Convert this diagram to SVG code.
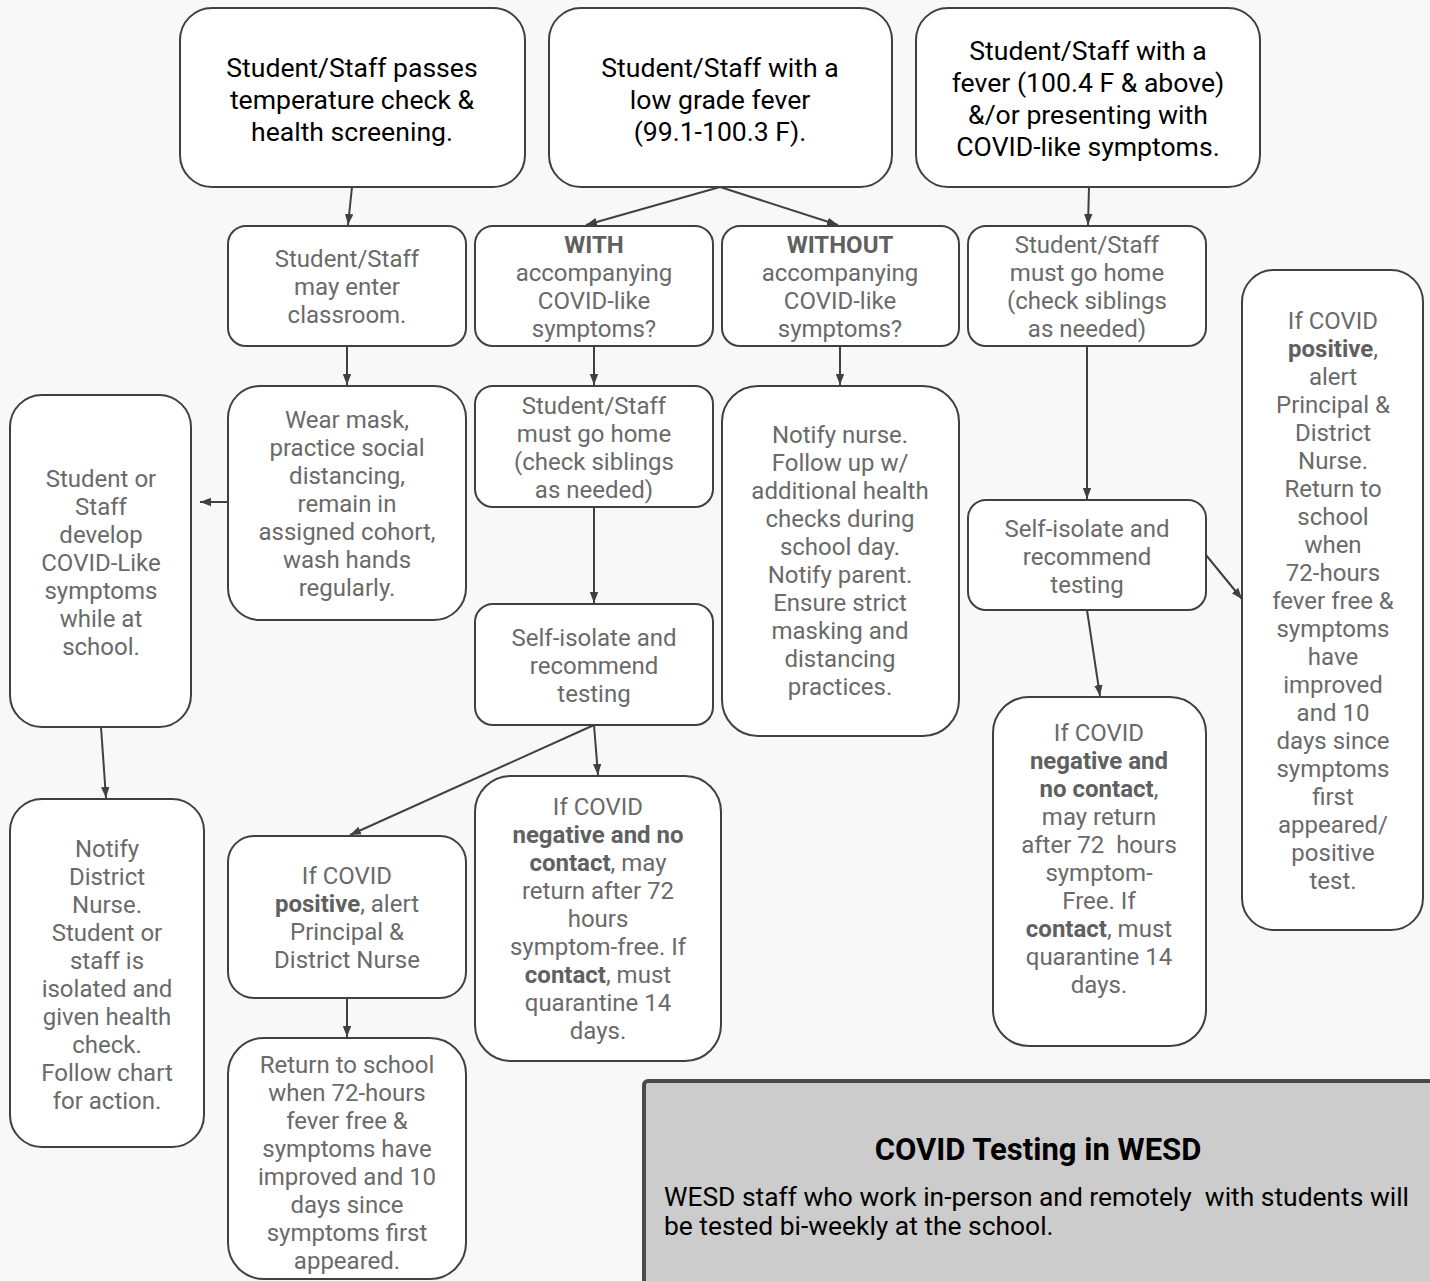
<svg xmlns="http://www.w3.org/2000/svg" width="1430" height="1281" viewBox="0 0 1430 1281">
<defs>
<style>
.bg{fill:#f8f8f8}
.box{fill:#ffffff;stroke:#404040;stroke-width:2}
.note{fill:#cccccc;stroke:#4a4a4a;stroke-width:4}
.t{font-family:Roboto,"Liberation Sans",sans-serif;text-anchor:middle}
.top{font-size:26.6px;fill:#000000}
.g{font-size:24px;fill:#6a6a6a}
.b{font-weight:bold;fill:#606060}
.conn line{stroke:#404040;stroke-width:2;fill:none}
.pre{white-space:pre}
</style>
<marker id="ah" viewBox="0 0 10 10" refX="10" refY="5" markerWidth="11" markerHeight="11" markerUnits="userSpaceOnUse" orient="auto">
<path d="M0,1.2 L10,5 L0,8.8 z" fill="#404040"/>
</marker>
</defs>
<rect class="bg" x="0" y="0" width="1430" height="1281"/>

<g id="connectors" class="conn">
<line x1="352" y1="187" x2="348" y2="225" marker-end="url(#ah)"/>
<line x1="720" y1="187" x2="586" y2="225" marker-end="url(#ah)"/>
<line x1="720" y1="187" x2="838" y2="225" marker-end="url(#ah)"/>
<line x1="1089" y1="187" x2="1088" y2="225" marker-end="url(#ah)"/>
<line x1="347" y1="346" x2="347" y2="385" marker-end="url(#ah)"/>
<line x1="594" y1="346" x2="594" y2="385" marker-end="url(#ah)"/>
<line x1="840" y1="346" x2="840" y2="385" marker-end="url(#ah)"/>
<line x1="1087" y1="346" x2="1087" y2="499" marker-end="url(#ah)"/>
<line x1="228" y1="502" x2="200" y2="502" marker-end="url(#ah)"/>
<line x1="101" y1="727" x2="106" y2="798" marker-end="url(#ah)"/>
<line x1="594" y1="507" x2="594" y2="603" marker-end="url(#ah)"/>
<line x1="594" y1="725" x2="350" y2="835" marker-end="url(#ah)"/>
<line x1="594" y1="725" x2="598" y2="775" marker-end="url(#ah)"/>
<line x1="1087" y1="610" x2="1100" y2="696" marker-end="url(#ah)"/>
<line x1="1206" y1="555" x2="1242" y2="599" marker-end="url(#ah)"/>
<line x1="347" y1="998" x2="347" y2="1037" marker-end="url(#ah)"/>
</g>

<g id="n-passes">
<rect class="box" x="180" y="8" width="345" height="179" rx="32"/>
<text class="t top"><tspan x="352" y="77">Student/Staff passes</tspan><tspan x="352" y="109">temperature check &amp;</tspan><tspan x="352" y="141">health screening.</tspan></text>
</g>
<g id="n-lowgrade">
<rect class="box" x="549" y="8" width="343" height="179" rx="32"/>
<text class="t top"><tspan x="720" y="77">Student/Staff with a</tspan><tspan x="720" y="109">low grade fever</tspan><tspan x="720" y="141">(99.1-100.3 F).</tspan></text>
</g>
<g id="n-fever">
<rect class="box" x="916" y="8" width="344" height="179" rx="32"/>
<text class="t top"><tspan x="1088" y="60">Student/Staff with a</tspan><tspan x="1088" y="92">fever (100.4 F &amp; above)</tspan><tspan x="1088" y="124">&amp;/or presenting with</tspan><tspan x="1088" y="156">COVID-like symptoms.</tspan></text>
</g>

<g id="n-enter">
<rect class="box" x="228" y="226" width="238" height="120" rx="18"/>
<text class="t g"><tspan x="347" y="267">Student/Staff</tspan><tspan x="347" y="295">may enter</tspan><tspan x="347" y="323">classroom.</tspan></text>
</g>
<g id="n-with">
<rect class="box" x="475" y="226" width="238" height="120" rx="18"/>
<text class="t g"><tspan x="594" y="253" class="b">WITH</tspan><tspan x="594" y="281">accompanying</tspan><tspan x="594" y="309">COVID-like</tspan><tspan x="594" y="337">symptoms?</tspan></text>
</g>
<g id="n-without">
<rect class="box" x="722" y="226" width="237" height="120" rx="18"/>
<text class="t g"><tspan x="840" y="253" class="b">WITHOUT</tspan><tspan x="840" y="281">accompanying</tspan><tspan x="840" y="309">COVID-like</tspan><tspan x="840" y="337">symptoms?</tspan></text>
</g>
<g id="n-gohome-right">
<rect class="box" x="968" y="226" width="238" height="120" rx="18"/>
<text class="t g"><tspan x="1087" y="253">Student/Staff</tspan><tspan x="1087" y="281">must go home</tspan><tspan x="1087" y="309">(check siblings</tspan><tspan x="1087" y="337">as needed)</tspan></text>
</g>

<g id="n-mask">
<rect class="box" x="228" y="386" width="238" height="234" rx="32"/>
<text class="t g"><tspan x="347" y="428">Wear mask,</tspan><tspan x="347" y="456">practice social</tspan><tspan x="347" y="484">distancing,</tspan><tspan x="347" y="512">remain in</tspan><tspan x="347" y="540">assigned cohort,</tspan><tspan x="347" y="568">wash hands</tspan><tspan x="347" y="596">regularly.</tspan></text>
</g>
<g id="n-gohome-mid">
<rect class="box" x="475" y="386" width="238" height="121" rx="18"/>
<text class="t g"><tspan x="594" y="414">Student/Staff</tspan><tspan x="594" y="442">must go home</tspan><tspan x="594" y="470">(check siblings</tspan><tspan x="594" y="498">as needed)</tspan></text>
</g>
<g id="n-notifynurse">
<rect class="box" x="722" y="386" width="237" height="350" rx="36"/>
<text class="t g"><tspan x="840" y="443">Notify nurse.</tspan><tspan x="840" y="471">Follow up w/</tspan><tspan x="840" y="499">additional health</tspan><tspan x="840" y="527">checks during</tspan><tspan x="840" y="555">school day.</tspan><tspan x="840" y="583">Notify parent.</tspan><tspan x="840" y="611">Ensure strict</tspan><tspan x="840" y="639">masking and</tspan><tspan x="840" y="667">distancing</tspan><tspan x="840" y="695">practices.</tspan></text>
</g>
<g id="n-develop">
<rect class="box" x="10" y="395" width="181" height="332" rx="32"/>
<text class="t g"><tspan x="101" y="487">Student or</tspan><tspan x="101" y="515">Staff</tspan><tspan x="101" y="543">develop</tspan><tspan x="101" y="571">COVID-Like</tspan><tspan x="101" y="599">symptoms</tspan><tspan x="101" y="627">while at</tspan><tspan x="101" y="655">school.</tspan></text>
</g>
<g id="n-positive-right">
<rect class="box" x="1242" y="270" width="181" height="660" rx="32"/>
<text class="t g"><tspan x="1333" y="329">If COVID</tspan><tspan x="1333" y="357"><tspan class="b">positive</tspan>,</tspan><tspan x="1333" y="385">alert</tspan><tspan x="1333" y="413">Principal &amp;</tspan><tspan x="1333" y="441">District</tspan><tspan x="1333" y="469">Nurse.</tspan><tspan x="1333" y="497">Return to</tspan><tspan x="1333" y="525">school</tspan><tspan x="1333" y="553">when</tspan><tspan x="1333" y="581">72-hours</tspan><tspan x="1333" y="609">fever free &amp;</tspan><tspan x="1333" y="637">symptoms</tspan><tspan x="1333" y="665">have</tspan><tspan x="1333" y="693">improved</tspan><tspan x="1333" y="721">and 10</tspan><tspan x="1333" y="749">days since</tspan><tspan x="1333" y="777">symptoms</tspan><tspan x="1333" y="805">first</tspan><tspan x="1333" y="833">appeared/</tspan><tspan x="1333" y="861">positive</tspan><tspan x="1333" y="889">test.</tspan></text>
</g>
<g id="n-isolate-right">
<rect class="box" x="968" y="500" width="238" height="110" rx="18"/>
<text class="t g"><tspan x="1087" y="537">Self-isolate and</tspan><tspan x="1087" y="565">recommend</tspan><tspan x="1087" y="593">testing</tspan></text>
</g>
<g id="n-isolate-mid">
<rect class="box" x="475" y="604" width="238" height="121" rx="18"/>
<text class="t g"><tspan x="594" y="646">Self-isolate and</tspan><tspan x="594" y="674">recommend</tspan><tspan x="594" y="702">testing</tspan></text>
</g>

<g id="n-notify-district">
<rect class="box" x="10" y="799" width="194" height="348" rx="32"/>
<text class="t g"><tspan x="107" y="857">Notify</tspan><tspan x="107" y="885">District</tspan><tspan x="107" y="913">Nurse.</tspan><tspan x="107" y="941">Student or</tspan><tspan x="107" y="969">staff is</tspan><tspan x="107" y="997">isolated and</tspan><tspan x="107" y="1025">given health</tspan><tspan x="107" y="1053">check.</tspan><tspan x="107" y="1081">Follow chart</tspan><tspan x="107" y="1109">for action.</tspan></text>
</g>
<g id="n-positive-mid">
<rect class="box" x="228" y="836" width="238" height="162" rx="26"/>
<text class="t g"><tspan x="347" y="884">If COVID</tspan><tspan x="347" y="912"><tspan class="b">positive</tspan>, alert</tspan><tspan x="347" y="940">Principal &amp;</tspan><tspan x="347" y="968">District Nurse</tspan></text>
</g>
<g id="n-negative-mid">
<rect class="box" x="475" y="776" width="246" height="285" rx="36"/>
<text class="t g"><tspan x="598" y="815">If COVID</tspan><tspan x="598" y="843" class="b">negative and no</tspan><tspan x="598" y="871"><tspan class="b">contact</tspan>, may</tspan><tspan x="598" y="899">return after 72</tspan><tspan x="598" y="927">hours</tspan><tspan x="598" y="955">symptom-free. If</tspan><tspan x="598" y="983"><tspan class="b">contact</tspan>, must</tspan><tspan x="598" y="1011">quarantine 14</tspan><tspan x="598" y="1039">days.</tspan></text>
</g>
<g id="n-negative-right">
<rect class="box" x="993" y="697" width="213" height="349" rx="36"/>
<text class="t g"><tspan x="1099" y="741">If COVID</tspan><tspan x="1099" y="769" class="b">negative and</tspan><tspan x="1099" y="797"><tspan class="b">no contact</tspan>,</tspan><tspan x="1099" y="825">may return</tspan><tspan x="1099" y="853" class="pre">after 72  hours</tspan><tspan x="1099" y="881">symptom-</tspan><tspan x="1099" y="909">Free. If</tspan><tspan x="1099" y="937"><tspan class="b">contact</tspan>, must</tspan><tspan x="1099" y="965">quarantine 14</tspan><tspan x="1099" y="993">days.</tspan></text>
</g>
<g id="n-return">
<rect class="box" x="228" y="1038" width="238" height="241" rx="36"/>
<text class="t g"><tspan x="347" y="1073">Return to school</tspan><tspan x="347" y="1101">when 72-hours</tspan><tspan x="347" y="1129">fever free &amp;</tspan><tspan x="347" y="1157">symptoms have</tspan><tspan x="347" y="1185">improved and 10</tspan><tspan x="347" y="1213">days since</tspan><tspan x="347" y="1241">symptoms first</tspan><tspan x="347" y="1269">appeared.</tspan></text>
</g>

<g id="n-testing-note">
<rect class="note" x="644" y="1081" width="800" height="220" rx="4"/>
<text class="t" style="font-size:31px;font-weight:bold;fill:#000" x="1038" y="1160">COVID Testing in WESD</text>
<text class="pre" style="font-family:Roboto,'Liberation Sans',sans-serif;font-size:26.4px;fill:#000"><tspan x="664" y="1206">WESD staff who work in-person and remotely  with students will</tspan><tspan x="664" y="1235">be tested bi-weekly at the school.</tspan></text>
</g>
</svg>
